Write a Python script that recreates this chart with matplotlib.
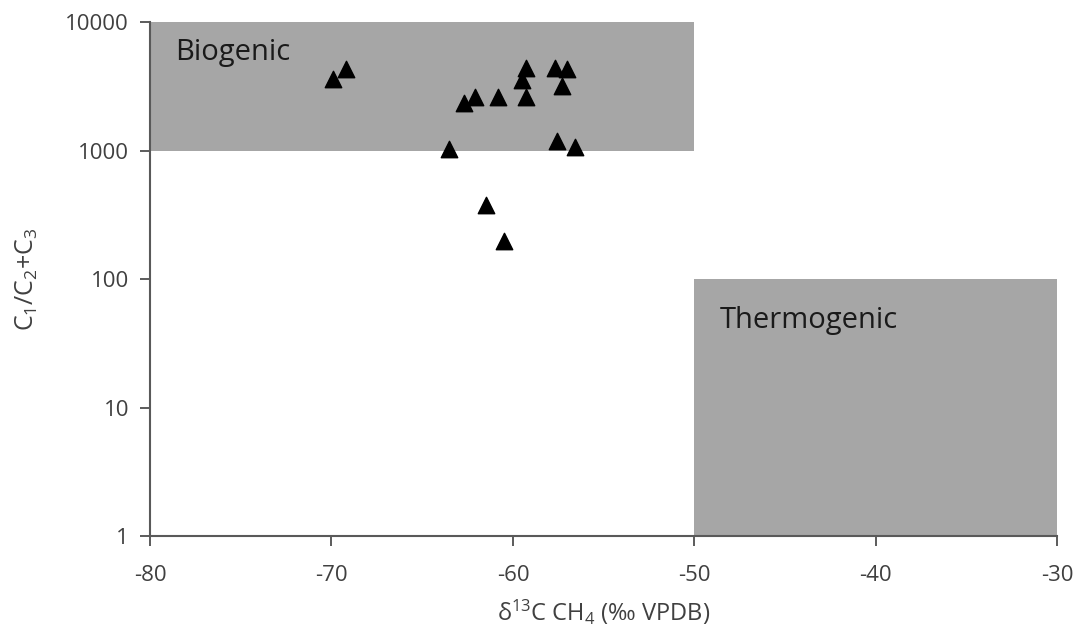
import matplotlib
matplotlib.use("Agg")
import matplotlib.pyplot as plt
from matplotlib.patches import Rectangle

plt.rcParams['font.family'] = ['Open Sans', 'DejaVu Sans']
plt.rcParams['mathtext.default'] = 'regular'
plt.rcParams['axes.unicode_minus'] = False

# delta13C CH4 and C1/(C2+C3)
d13c = [-69.9, -69.2, -63.5, -62.7, -62.1, -60.8, -61.5, -60.5,
        -59.3, -59.5, -59.3, -57.7, -57.0, -57.3, -57.6, -56.6]
ratio = [3600, 4300, 1030, 2340, 2610, 2640, 377, 198,
         4390, 3540, 2610, 4390, 4300, 3180, 1185, 1065]

axis_col = '#595959'
fill_col = '#a6a6a6'
text_col = '#404040'

fig = plt.figure(figsize=(10.79, 6.36), dpi=100)
ax = fig.add_axes([0.139, 0.157, 0.841, 0.808])

ax.set_yscale('log')
ax.set_xlim(-80, -30)
ax.set_ylim(1, 10000)

# zones
ax.add_patch(Rectangle((-80, 1000), 30, 9000, facecolor=fill_col, edgecolor='none', zorder=0))
ax.add_patch(Rectangle((-50, 1), 20, 99, facecolor=fill_col, edgecolor='none', zorder=0))
ax.text(-78.6, 5800, 'Biogenic', fontsize=21, va='center', ha='left', color='#1a1a1a')
ax.text(-48.6, 48, 'Thermogenic', fontsize=21, va='center', ha='left', color='#1a1a1a')

ax.scatter(d13c, ratio, marker='^', s=140, color='black', zorder=3)

ax.set_xticks([-80, -70, -60, -50, -40, -30])
ax.set_yticks([1, 10, 100, 1000, 10000])
ax.set_yticklabels(['1', '10', '100', '1000', '10000'])
ax.minorticks_off()
ax.tick_params(axis='both', labelsize=16, colors=text_col, length=7, width=1.2)
ax.tick_params(axis='x', direction='out', pad=14)
ax.tick_params(axis='y', direction='out', pad=8)

for s in ['top', 'right']:
    ax.spines[s].set_visible(False)
for s in ['left', 'bottom']:
    ax.spines[s].set_color(axis_col)
    ax.spines[s].set_linewidth(1.5)

ax.set_xlabel('δ$^{13}$C CH$_4$ (‰ VPDB)', fontsize=17, color=text_col, labelpad=8)
ax.set_ylabel('C$_1$/C$_2$+C$_3$', fontsize=18, color=text_col, labelpad=18)

fig.savefig('out.png', dpi=100)
